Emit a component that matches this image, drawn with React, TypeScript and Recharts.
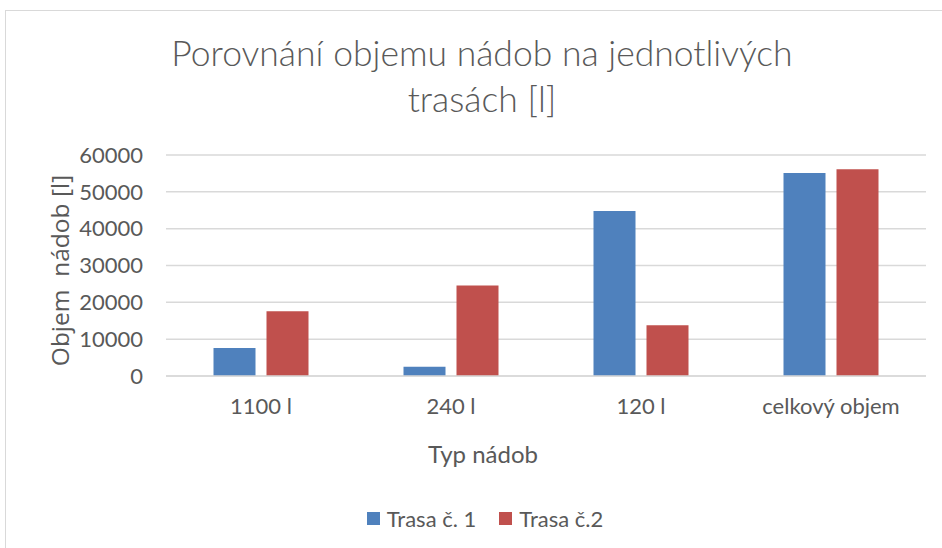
import React from 'react';
import { BarChart, Bar, XAxis, YAxis, CartesianGrid, Legend, Label } from 'recharts';

const categories = ['1100 l', '240 l', '120 l', 'celkový objem'];
const trasa1 = [7600, 2500, 44800, 55100];
const trasa2 = [17600, 24600, 13800, 56100];
const yTicks = [0, 10000, 20000, 30000, 40000, 50000, 60000];
const seriesNames = ['Trasa č. 1', 'Trasa č.2'];
const seriesColors = ['#4F81BD', '#C0504D'];

const data = categories.map((c, i) => ({ name: c, t1: trasa1[i], t2: trasa2[i] }));

const FONT = 'Lato, "Open Sans", sans-serif';
const TXT = '#595959';

const LegendContent = () => (
  <div style={{ display: 'flex', justifyContent: 'center', alignItems: 'center', fontFamily: FONT, fontSize: 22, color: TXT }}>
    {seriesNames.map((n, i) => (
      <div key={n} style={{ display: 'flex', alignItems: 'center', marginRight: i === 0 ? 23 : 0 }}>
        <span style={{ display: 'inline-block', width: 13, height: 13, background: seriesColors[i], marginRight: 7 }} />
        <span>{n}</span>
      </div>
    ))}
  </div>
);

export default function App() {
  return (
    <div style={{ position: 'absolute', left: 0, top: 0, width: 942, height: 548, overflow: 'hidden', background: '#fff', fontFamily: FONT }}>
      <div style={{ position: 'absolute', left: 5, top: 10, width: 1000, height: 600, border: '1px solid #d9d9d9', boxSizing: 'border-box' }} />
      <div style={{ position: 'absolute', left: 82, width: 800, top: 30, textAlign: 'center', color: TXT, fontSize: 35.5, lineHeight: '46px', fontWeight: 300 }}>
        Porovnání objemu nádob na jednotlivých<br />trasách [l]
      </div>
      <div style={{ position: 'absolute', left: 0, top: 0 }}>
        <BarChart width={942} height={548} data={data} margin={{ top: 155, right: 16, left: 0, bottom: 0 }} barCategoryGap="25%" barGap={11}>
          <CartesianGrid vertical={false} stroke="#d9d9d9" strokeWidth={1.5} />
          <XAxis dataKey="name" height={172} axisLine={{ stroke: '#d9d9d9', strokeWidth: 1.5 }} tickLine={false}
            tick={{ fill: TXT, fontSize: 22, fontFamily: FONT }} tickMargin={16}>
            <Label value="Typ nádob" position="insideTop" offset={70} dx={-63} style={{ fill: TXT, fontSize: 24, fontFamily: FONT }} />
          </XAxis>
          <YAxis width={166} domain={[0, 60000]} ticks={yTicks} axisLine={false} tickLine={false}
            tick={{ fill: TXT, fontSize: 22, fontFamily: FONT }} tickMargin={17}>
            <Label value={'Objem\u00a0\u00a0nádob [l]'} angle={-90} position="insideLeft" offset={0} dx={60} dy={5}
              style={{ fill: TXT, fontSize: 24.5, fontFamily: '"Open Sans", sans-serif', textAnchor: 'middle' }} />
          </YAxis>
          <Legend layout="horizontal" verticalAlign="middle" align="center"
            wrapperStyle={{ top: 505, left: 0, width: 942, paddingLeft: 28, boxSizing: 'border-box' }}
            content={LegendContent} />
          <Bar dataKey="t1" name={seriesNames[0]} fill={seriesColors[0]} isAnimationActive={false} />
          <Bar dataKey="t2" name={seriesNames[1]} fill={seriesColors[1]} isAnimationActive={false} />
        </BarChart>
      </div>
    </div>
  );
}
